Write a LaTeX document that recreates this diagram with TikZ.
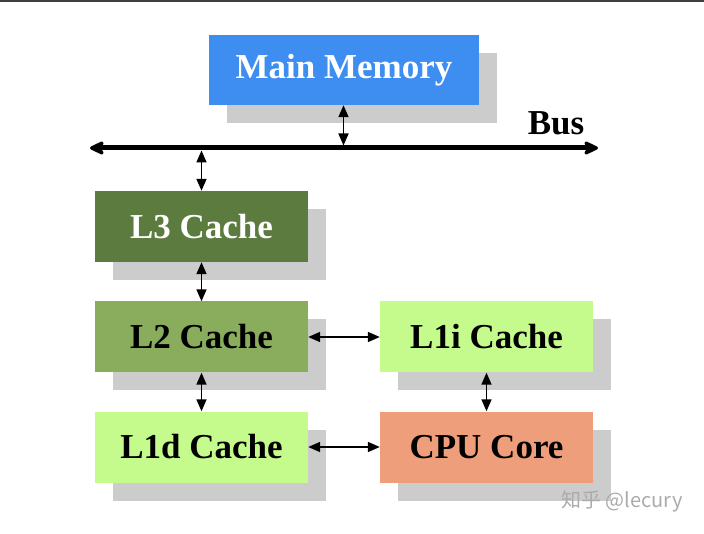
\documentclass[tikz,border=0pt]{standalone}
\usepackage{fontspec}
\setmainfont{Liberation Serif}
\newfontfamily\cjkfont{Noto Sans CJK SC}
\usetikzlibrary{arrows.meta,shadows}
\definecolor{mmblue}{HTML}{3D8EF0}
\definecolor{lthree}{HTML}{5B7B3F}
\definecolor{ltwo}{HTML}{89AD5C}
\definecolor{lone}{HTML}{C4FB8C}
\definecolor{cpucol}{HTML}{EF9E7B}
\definecolor{shadowgray}{HTML}{CCCCCC}
\definecolor{topline}{HTML}{404040}
\definecolor{wmgray}{HTML}{ABABAB}
\tikzset{
  box/.style={rectangle, inner sep=0pt, minimum width=213pt, minimum height=71pt,
    font=\fontsize{35}{40}\selectfont\bfseries,
    general shadow={shadow xshift=18pt, shadow yshift=-18pt, fill=shadowgray}},
  link/.style={line width=1.7pt, {Triangle[length=12pt,width=10pt]}-{Triangle[length=12pt,width=10pt]}},
  busline/.style={line width=5pt, {Stealth[length=18pt,width=17pt,inset=5pt,round]}-{Stealth[length=18pt,width=17pt,inset=5pt,round]}}
}
\begin{document}
\begin{tikzpicture}[x=1pt,y=-1pt]
\useasboundingbox[fill=white] (0,0) rectangle (704,534);
\draw[topline, line width=2pt] (0,1) -- (704,1);
% boxes
\node[box, fill=mmblue, text=white, minimum width=270pt, minimum height=70pt] (mm) at (344,70) {Main Memory};
\node[box, fill=lthree, text=white] (l3) at (201.5,226.5) {L3 Cache};
\node[box, fill=ltwo] (l2) at (201.5,337) {L2 Cache};
\node[box, fill=lone] (l1d) at (201.5,447) {L1d Cache};
\node[box, fill=lone] (l1i) at (486.5,337) {L1i Cache};
\node[box, fill=cpucol] (cpu) at (486.5,447) {CPU Core};
% bus
\coordinate (busL) at (90,148);
\coordinate (busR) at (598,148);
\draw[busline] (busL) -- (busR);
\node[font=\fontsize{35}{40}\selectfont\bfseries, inner sep=0pt] (bus) at (556,123) {Bus};
\coordinate (busmm) at (343.5,145.5);
\coordinate (busl3) at (201.5,150.5);
% links
\draw[link] (mm.south -| busmm) -- (busmm);
\draw[link] (busl3) -- (l3.north);
\draw[link] (l3) -- (l2);
\draw[link] (l2) -- (l1d);
\draw[link] (l2) -- (l1i);
\draw[link] (l1d) -- (cpu);
\draw[link] (l1i) -- (cpu);
% watermark
\node[text=wmgray, font=\cjkfont\fontsize{20}{24}\selectfont, inner sep=0pt] (wm) at (622,501) {知乎 @lecury};
\end{tikzpicture}
\end{document}
